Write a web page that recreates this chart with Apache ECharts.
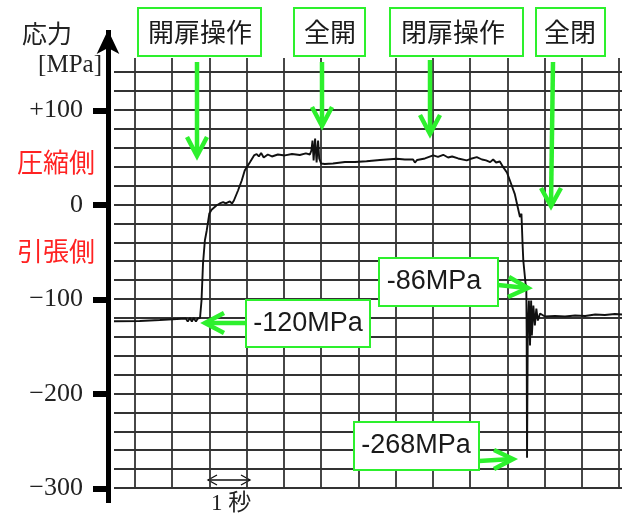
<!DOCTYPE html>
<html>
<head>
<meta charset="utf-8">
<script src="https://cdn.jsdelivr.net/npm/echarts@6/dist/echarts.min.js"></script>
<style>
  html, body { margin: 0; padding: 0; background: #fff; }
  #chart { width: 634px; height: 518px; }
</style>
</head>
<body>
<div id="chart"></div>
<script>
// Stress record of the door operation: time in seconds (one grid division = 1 s), stress in MPa
const timeSec = [
  0.44, 1.13, 1.67, 2.13, 2.37, 2.42, 2.48, 2.53, 2.58, 2.64, 2.69, 2.75,
  2.79, 2.83, 2.88, 2.93, 3.00, 3.06, 3.19, 3.28, 3.37, 3.44, 3.55, 3.61, 3.66,
  3.77, 3.82, 3.87, 3.95, 4.09, 4.20,
  4.27, 4.33, 4.39, 4.46, 4.57, 4.68, 4.84, 5.03, 5.22, 5.43, 5.59, 5.70,
  5.74, 5.77, 5.80, 5.84, 5.88, 5.92, 5.95, 6.00,
  6.10, 6.32, 6.64, 6.91, 7.22, 7.58, 8.03, 8.25, 8.47, 8.52, 8.58, 8.79,
  9.01, 9.14, 9.28, 9.41, 9.52, 9.68, 9.91, 10.00, 10.18, 10.32, 10.43, 10.54,
  10.62, 10.70, 10.80,
  10.89, 10.99, 11.07, 11.20, 11.29, 11.34, 11.38, 11.41, 11.43, 11.49, 11.51,
  11.52, 11.53, 11.55, 11.58, 11.60, 11.61, 11.64, 11.66, 11.70, 11.74, 11.78,
  11.82, 11.88, 12.01, 12.28, 12.55, 12.82, 13.09, 13.36, 13.62, 13.89, 14.08
];
const stressMPa = [
  -123.5, -123.3, -122.2, -121.2, -120.6, -123.8, -120.1, -123.8, -120.1, -123.8, -120.6, -120.0,
  -101.6, -62.4, -38.1, -27.5, -9.5, -5.6, -1.1, 1.1, 2.4, 1.1, 3.2, 1.1, 4.2,
  14.8, 16.9, 25.4, 36.0, 44.8, 51.9,
  53.4, 50.8, 54.5, 49.7, 52.9, 50.8, 52.9, 51.9, 53.4, 52.4, 54.0, 52.9,
  57.1, 67.7, 46.6, 69.8, 44.4, 67.7, 48.7, 43.4,
  42.9, 43.4, 45.0, 45.0, 45.8, 47.1, 48.4, 47.6, 47.6, 44.4, 47.1, 48.7,
  51.9, 50.3, 52.6, 49.7, 50.8, 48.7, 46.6, 48.1, 50.1, 47.6, 46.6, 44.8,
  47.6, 44.4, 45.5,
  39.5, 33.9, 25.4, 11.3, -4.6, -13.4, -9.8, -41.6, -59.3, -83.6, -86.0,
  -133.3, -268.0, -133.3, -101.6, -133.3, -149.2, -101.6, -138.6, -106.9, -128.0, -110.1,
  -122.8, -115.3, -118.5, -118.0, -118.5, -117.5, -118.0, -116.4, -116.9, -115.9, -116.4
];

// Chart-paper grid: vertical lines every second, horizontal lines every 20 MPa
const gridSeconds = [1, 2, 3, 4, 5, 6, 7, 8, 9, 10, 11, 12, 13, 14];
const gridStress = [-300, -280, -260, -240, -220, -200, -180, -160, -140, -120, -100,
  -80, -60, -40, -20, 0, 20, 40, 60, 80, 100, 120, 140];

// Stress axis ticks and their labels
const tickValues = [-300, -200, -100, 0, 100];
const tickLabels = ['\u2212300', '\u2212200', '\u2212100', '0', '+100'];

// Event captions above the record and peak value call-outs
const eventLabels = ['開扉操作', '全開', '閉扉操作', '全閉'];
const valueLabels = ['-120MPa', '-86MPa', '-268MPa'];

const GREEN = '#2df02d';
const GRID_COLOR = '#333';

function box(x, y, w, h, text, cx, font) {
  return [
    { type: 'rect', shape: { x: x, y: y, width: w, height: h },
      style: { fill: '#fff', stroke: GREEN, lineWidth: 2 }, z: 10 },
    { type: 'text', x: cx, y: y + h / 2,
      style: { text: text, font: font, fill: '#1a1a1a', align: 'center', verticalAlign: 'middle' }, z: 11 }
  ];
}
function arrow(shaft, head) {
  return [
    { type: 'polyline', shape: { points: shaft },
      style: { stroke: GREEN, lineWidth: 4.5, fill: null }, z: 12 },
    { type: 'polyline', shape: { points: head },
      style: { stroke: GREEN, lineWidth: 4.5, fill: null, lineJoin: 'miter' }, z: 12 }
  ];
}

const jpFont = '26px "Noto Sans CJK JP"';
const numFont = '27px "Liberation Sans"';

const graphics = [].concat(
  [
    { type: 'text', x: 47, y: 33, style: { text: '応力', font: '25px "Noto Sans CJK JP"', fill: '#222', align: 'center', verticalAlign: 'middle' } },
    { type: 'text', x: 102, y: 65, style: { text: '[MPa]', font: '25px "Liberation Serif"', fill: '#222', align: 'right', verticalAlign: 'middle' } },
    { type: 'text', x: 56, y: 162, style: { text: '圧縮側', font: '26px "Noto Sans CJK JP"', fill: '#f22', align: 'center', verticalAlign: 'middle' } },
    { type: 'text', x: 56, y: 251, style: { text: '引張側', font: '26px "Noto Sans CJK JP"', fill: '#f22', align: 'center', verticalAlign: 'middle' } },
    // one-second scale bar
    { type: 'line', shape: { x1: 208, y1: 480, x2: 250, y2: 480 }, style: { stroke: '#111', lineWidth: 1.3 } },
    { type: 'polyline', shape: { points: [[217, 475], [208, 480], [217, 485]] }, style: { stroke: '#111', lineWidth: 1.3, fill: null } },
    { type: 'polyline', shape: { points: [[241, 475], [250, 480], [241, 485]] }, style: { stroke: '#111', lineWidth: 1.3, fill: null } },
    { type: 'text', x: 231, y: 504, style: { text: '1 秒', font: '23px "Liberation Serif", "Noto Sans CJK JP"', fill: '#222', align: 'center', verticalAlign: 'middle' } }
  ],
  box(138, 8, 123, 48, eventLabels[0], 200, jpFont),
  box(294, 8, 71, 48, eventLabels[1], 330, jpFont),
  box(390, 8, 133, 48, eventLabels[2], 453, jpFont),
  box(536, 8, 69, 48, eventLabels[3], 570, jpFont),
  arrow([[197, 62], [197, 155]], [[187, 137], [197, 156], [207, 137]]),
  arrow([[322, 62], [322, 125]], [[312, 107], [322, 126], [332, 107]]),
  arrow([[430, 60], [430, 133]], [[420, 115], [430, 134], [440, 115]]),
  arrow([[553, 62], [551, 205]], [[541, 188], [551, 206], [561, 188]]),
  box(246, 300, 124, 47, valueLabels[0], 308, numFont),
  box(379, 258, 119, 48, valueLabels[1], 434, numFont),
  box(354, 422, 125, 48, valueLabels[2], 416, numFont),
  arrow([[246, 323], [206, 323]], [[224, 313], [205, 323], [224, 333]]),
  arrow([[498, 285], [527, 288]], [[509, 277], [528, 288], [508, 297]]),
  arrow([[479, 461], [512, 459]], [[494, 450], [513, 459], [494, 469]])
);

const chart = echarts.init(document.getElementById('chart'), null, { renderer: 'canvas' });
chart.setOption({
  animation: false,
  backgroundColor: '#fff',
  grid: [
    { left: 114, right: 12, top: 58, bottom: 30 },
    { left: 108, width: 1, top: 30, bottom: 15 }
  ],
  xAxis: [
    {
      type: 'value', gridIndex: 0, min: 0.44, max: 14.08,
      axisLine: { show: false }, axisLabel: { show: false },
      axisTick: { show: false, customValues: gridSeconds },
      splitLine: { show: true, lineStyle: { color: GRID_COLOR, width: 1.8 } }
    },
    { type: 'value', gridIndex: 1, show: false }
  ],
  yAxis: [
    {
      type: 'value', gridIndex: 0, min: -300, max: 155,
      axisLine: { show: false }, axisLabel: { show: false },
      axisTick: { show: false, customValues: gridStress },
      splitLine: { show: true, lineStyle: { color: GRID_COLOR, width: 1.8 } }
    },
    {
      type: 'value', gridIndex: 1, min: -315.3, max: 185.2,
      axisLine: {
        show: true, symbol: ['none', 'arrow'], symbolSize: [17, 24],
        lineStyle: { color: '#000', width: 5, cap: 'butt' }
      },
      axisTick: {
        show: true, inside: false, length: 15, customValues: tickValues,
        lineStyle: { color: '#000', width: 6 }
      },
      axisLabel: {
        show: true, margin: 25, customValues: tickValues,
        fontFamily: '"Liberation Serif"', fontSize: 26, color: '#222',
        formatter: function (v) {
          const i = tickValues.indexOf(Math.round(v));
          return i >= 0 ? tickLabels[i] : '';
        }
      },
      splitLine: { show: false }
    }
  ],
  series: [{
    type: 'line', xAxisIndex: 0, yAxisIndex: 0,
    data: timeSec.map(function (t, i) { return [t, stressMPa[i]]; }),
    showSymbol: false, symbol: 'none',
    lineStyle: { color: '#111', width: 1.9 },
    z: 5
  }],
  graphic: graphics
});
</script>
</body>
</html>
